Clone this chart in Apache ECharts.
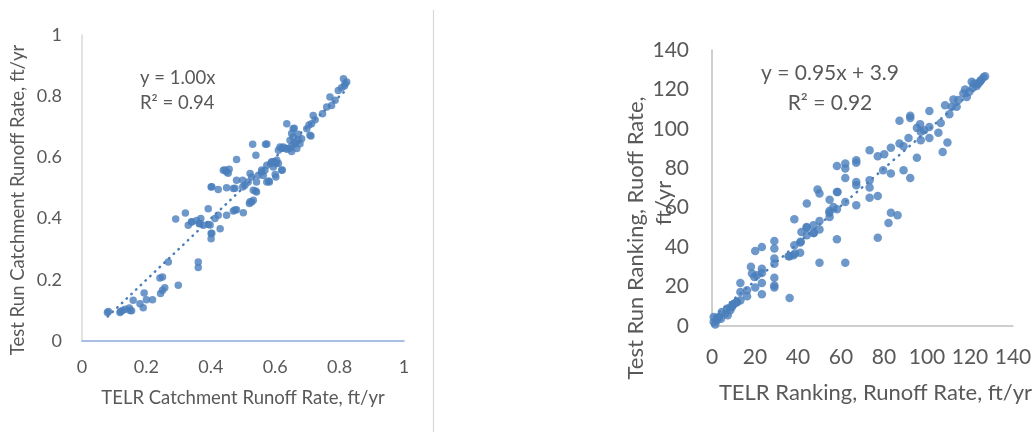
<!DOCTYPE html>
<html>
<head>
<meta charset="utf-8">
<script src="https://cdn.jsdelivr.net/npm/echarts@6/dist/echarts.min.js"></script>
<style>html,body{margin:0;padding:0;background:#fff;}#c{width:1033px;height:433px;}</style>
</head>
<body>
<div id="c"></div>
<script>
// Left chart: TELR vs Test Run catchment runoff rate (ft/yr)
const leftPoints = [
[0.079,0.093],[0.082,0.096],[0.118,0.093],[0.12,0.096],[0.126,0.10],[0.134,0.104],[0.147,0.108],[0.149,0.10],[0.154,0.099],[0.159,0.133],
[0.18,0.122],[0.19,0.109],[0.193,0.157],[0.20,0.135],[0.219,0.135],[0.244,0.155],[0.25,0.166],[0.257,0.174],[0.242,0.206],[0.25,0.209],
[0.268,0.258],[0.299,0.182],[0.291,0.399],[0.321,0.418],[0.33,0.378],[0.34,0.389],[0.361,0.258],[0.361,0.24],[0.356,0.394],[0.364,0.383],
[0.369,0.40],[0.377,0.378],[0.366,0.384],[0.392,0.432],[0.392,0.381],[0.401,0.351],[0.401,0.334],[0.401,0.503],[0.413,0.40],[0.423,0.411],
[0.429,0.367],[0.423,0.495],[0.439,0.558],[0.449,0.552],[0.457,0.561],[0.449,0.411],[0.449,0.501],[0.47,0.498],[0.47,0.425],[0.48,0.429],
[0.48,0.525],[0.48,0.593],[0.501,0.419],[0.499,0.525],[0.499,0.503],[0.506,0.509],[0.516,0.52],[0.52,0.449],[0.527,0.454],[0.532,0.46],
[0.527,0.536],[0.522,0.547],[0.53,0.643],[0.54,0.607],[0.542,0.487],[0.539,0.49],[0.542,0.52],[0.548,0.542],[0.558,0.552],[0.563,0.541],
[0.568,0.558],[0.57,0.643],[0.574,0.52],[0.582,0.52],[0.574,0.574],[0.586,0.58],[0.594,0.569],[0.599,0.585],[0.602,0.536],[0.61,0.58],
[0.62,0.558],[0.61,0.623],[0.615,0.634],[0.625,0.634],[0.636,0.71],[0.646,0.656],[0.651,0.678],[0.656,0.694],[0.656,0.667],[0.661,0.645],
[0.646,0.629],[0.667,0.629],[0.672,0.656],[0.677,0.645],[0.682,0.661],[0.698,0.694],[0.708,0.672],[0.713,0.71],[0.718,0.737],[0.724,0.723],
[0.747,0.743],[0.76,0.765],[0.77,0.797],[0.775,0.77],[0.786,0.787],[0.796,0.819],[0.806,0.828],[0.812,0.857],[0.817,0.841],[0.822,0.846],
[0.815,0.833],[0.705,0.706],[0.711,0.67],[0.659,0.695],[0.672,0.676],[0.662,0.648],[0.651,0.637],[0.62,0.63],[0.636,0.627],[0.574,0.644],
[0.605,0.591],[0.589,0.586],[0.6,0.544],[0.622,0.559],[0.444,0.559],[0.454,0.548],[0.403,0.504],[0.475,0.499],[0.341,0.39],[0.398,0.379],
[0.403,0.352],[0.475,0.428],[0.522,0.455],[0.532,0.493],[0.58,0.523],[0.558,0.559],[0.603,0.58],[0.594,0.586],[0.631,0.63],[0.651,0.619]
];
const leftTrend = [[0.08,0.08],[0.825,0.825]];
const leftEquation = ['y = 1.00x', 'R² = 0.94'];
const leftTicks = {min:0, max:1, interval:0.2};

// Right chart: ranking
const rightPoints = [
[0.8,2],[1.5,0.8],[2.3,2.9],[0.8,4.6],[3.1,4.4],[4.2,3.7],[4.6,7.1],[6.2,6.3],[7,8.8],[7.3,5.4],
[8.5,8],[9.3,9.6],[10.4,11.3],[11.6,12.2],[13.2,13],[13.2,17.3],[13.2,21.8],[16.3,18.1],[16.3,15.1],[18.1,30],
[18.6,26.6],[20.1,38.1],[19.7,24.9],[20.1,19.5],[20.9,25.7],[23.2,40.1],[23.2,29.1],[23.2,26.9],[23.2,21.8],[23.2,16.1],
[29,43.1],[29,39.3],[29,34.2],[29,31.6],[29,24.5],[29,20.6],[29,19.5],[36.1,14.2],[36.1,35.4],[37.9,35.9],
[38.3,40.9],[38.3,54.1],[41,37.2],[41,42.3],[41.6,47.7],[44.1,62.1],[44.1,46],[44.1,49.9],[47.2,51.1],[47.2,47.2],
[49.1,69.2],[50,67.2],[50,53.3],[50,48.9],[50,32.1],[54.7,64.1],[54.7,58.4],[54.7,55.3],[56.5,60.4],[58.1,81.2],
[58.1,68],[58.1,59.2],[58.1,44],[62,82.4],[62,79.9],[62,75.1],[62,62.9],[62,32.1],[67.1,84.1],[67.1,82.8],
[67.1,73.1],[67.1,71.4],[67.1,61.3],[73.3,89.2],[73.3,73.9],[73.3,70.2],[73.3,65.1],[77.1,86.1],[77.1,66],[77.1,44.8],
[80.1,87.1],[79.6,79],[82.1,52.3],[83.2,57.4],[83.2,77.3],[83.2,90.4],[86.3,56.2],[87.2,104.1],[87.2,92.6],[89.1,91.2],
[89.1,79],[91.4,95.4],[92.2,106.6],[92.2,105.5],[92.2,75.1],[95.3,85.3],[95.3,100.5],[96.8,102.4],[97.1,98.5],[97.1,94.2],
[98.7,99.3],[101.1,109],[101.1,101],[101.1,95.4],[105.3,98],[106.4,103],[107.3,88.3],[108.4,112],[109.5,93.1],[110.4,107.4],
[111.5,111.2],[112.3,114.9],[113.8,111.2],[114.6,114.6],[116.9,117.9],[117.7,120],[118.5,116.2],[119.7,118.8],[120.8,123.9],[121.3,120.8],
[121.9,123],[123.1,121.7],[123.9,123],[124.6,123.9],[125,124.7],[126.2,126.1],[127,126.7],[44,50.2],[47.4,47.2],[38.6,36.8],
[35.6,35.4],[41.3,42.7],[54.6,57.5],[58.4,68],[10,11.2],[11.6,12],[8.5,9.5],[3.1,4.4]
];
const rightTrend = [[1,4.9],[127,124.6]];
const rightEquation = ['y = 0.95x + 3.9', 'R² = 0.92'];
const rightTicks = {min:0, max:140, interval:20};

const FONT = 'Lato';
const GREY = '#595959';
const DOT = '#4a7ebb';

const chart = echarts.init(document.getElementById('c'), null, {renderer:'canvas'});
chart.setOption({
  animation: false,
  backgroundColor: '#fff',
  textStyle: {fontFamily: FONT},
  grid: [
    {left: 82, top: 35, width: 322, height: 306, containLabel:false, outerBoundsMode:'none'},
    {left: 712, top: 50, width: 301, height: 276, containLabel:false, outerBoundsMode:'none'}
  ],
  xAxis: [
    {gridIndex:0, type:'value', min:leftTicks.min, max:leftTicks.max, interval:leftTicks.interval,
     axisLine:{show:true, onZero:false, lineStyle:{color:'#8eaadb', width:1.5}}, axisTick:{show:false}, splitLine:{show:false},
     axisLabel:{color:GREY, fontSize:18, fontFamily:FONT, margin:17},
     name:'TELR Catchment Runoff Rate, ft/yr', nameLocation:'middle', nameGap:48, nameMoveOverlap:false,
     nameTextStyle:{color:GREY, fontSize:18.5, fontFamily:FONT}},
    {gridIndex:1, type:'value', min:rightTicks.min, max:rightTicks.max, interval:rightTicks.interval,
     axisLine:{show:true, onZero:false, lineStyle:{color:'#bfbfbf', width:1.5}}, axisTick:{show:false}, splitLine:{show:false},
     axisLabel:{color:GREY, fontSize:21, fontFamily:FONT, margin:21},
     name:'TELR Ranking, Runoff Rate, ft/yr', nameLocation:'middle', nameGap:56, nameMoveOverlap:false,
     nameTextStyle:{color:GREY, fontSize:22, fontFamily:FONT, padding:[0,0,0,26]}},
  ],
  yAxis: [
    {gridIndex:0, type:'value', min:leftTicks.min, max:leftTicks.max, interval:leftTicks.interval,
     axisLine:{show:true, onZero:false, lineStyle:{color:'#d9d9d9', width:1.5}}, axisTick:{show:false}, splitLine:{show:false},
     axisLabel:{color:GREY, fontSize:18, fontFamily:FONT, margin:20},
     name:'Test Run Catchment Runoff Rate, ft/yr', nameLocation:'middle', nameGap:54, nameMoveOverlap:false,
     nameTextStyle:{color:GREY, fontSize:18.5, fontFamily:FONT, padding:[0,24,0,0]}},
    {gridIndex:1, type:'value', min:rightTicks.min, max:rightTicks.max, interval:rightTicks.interval,
     axisLine:{show:true, onZero:false, lineStyle:{color:'#bfbfbf', width:1.5}}, axisTick:{show:false}, splitLine:{show:false},
     axisLabel:{color:GREY, fontSize:21, fontFamily:FONT, margin:23},
     name:'Test Run Ranking, Ruoff Rate,\n{u|ft/yr}', nameLocation:'middle', nameGap:34, nameMoveOverlap:false,
     nameTextStyle:{color:GREY, fontSize:22, fontFamily:FONT, lineHeight:28, padding:[0,100,0,0],
       rich:{u:{color:GREY, fontSize:22, fontFamily:FONT, lineHeight:28, padding:[0,0,0,70]}}}}
  ],
  series: [
    {type:'scatter', xAxisIndex:0, yAxisIndex:0, data:leftPoints, symbolSize:7.5, itemStyle:{color:DOT}, z:3},
    {type:'line', xAxisIndex:0, yAxisIndex:0, data:leftTrend, showSymbol:false, symbol:'none',
     lineStyle:{color:DOT, width:2.5, type:[0.5,6], cap:'round'}, z:2},
    {type:'scatter', xAxisIndex:1, yAxisIndex:1, data:rightPoints, symbolSize:8.5, itemStyle:{color:DOT}, z:3},
    {type:'line', xAxisIndex:1, yAxisIndex:1, data:rightTrend, showSymbol:false, symbol:'none',
     lineStyle:{color:DOT, width:2.5, type:[0.5,6.5], cap:'round'}, z:2}
  ],
  graphic: [
    {type:'line', shape:{x1:433.5, y1:10, x2:433.5, y2:432}, style:{stroke:'#d9d9d9', lineWidth:1.2}, silent:true},
    {type:'text', left:140, top:69, style:{text:leftEquation[0], fill:GREY, font:'18.5px ' + FONT}},
    {type:'text', left:140, top:94, style:{text:leftEquation[1], fill:GREY, font:'18.5px ' + FONT}},
    {type:'text', x:830, y:73, style:{text:rightEquation[0], fill:GREY, font:'21px ' + FONT, align:'center', verticalAlign:'middle'}},
    {type:'text', x:830, y:103, style:{text:rightEquation[1], fill:GREY, font:'21px ' + FONT, align:'center', verticalAlign:'middle'}}
  ]
});
</script>
</body>
</html>
